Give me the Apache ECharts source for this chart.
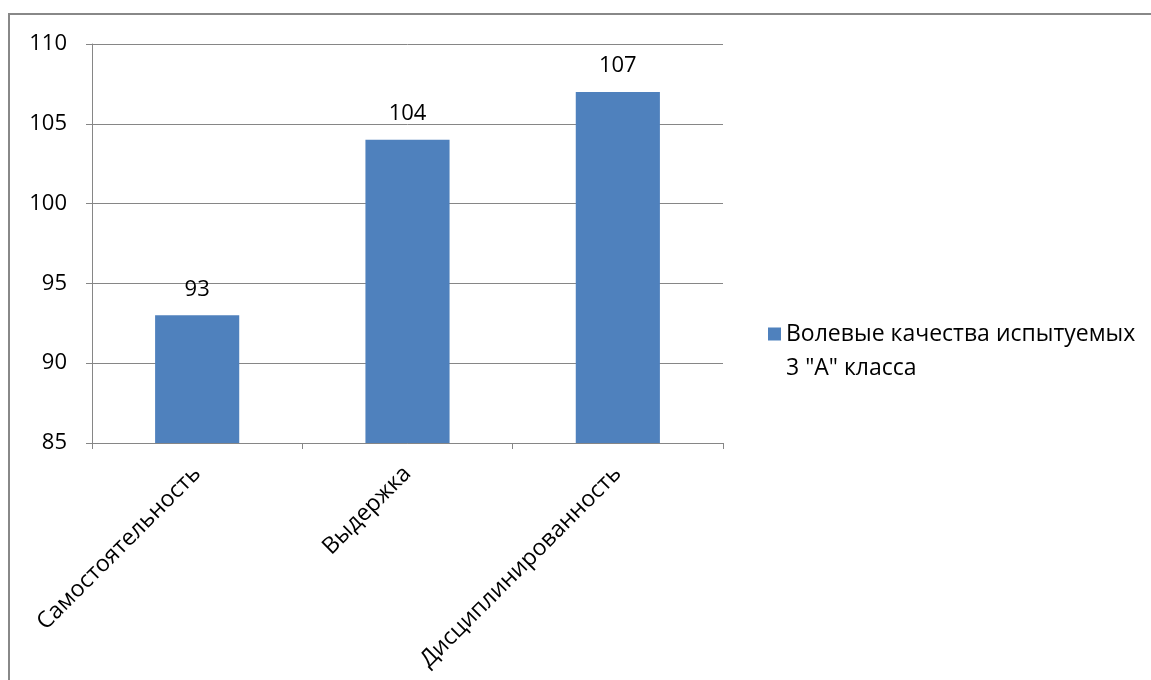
<!DOCTYPE html>
<html><head><meta charset="utf-8">
<script src="https://cdn.jsdelivr.net/npm/echarts@6/dist/echarts.min.js"></script>
<style>html,body{margin:0;padding:0;background:#fff}#c{width:1151px;height:680px}</style>
</head><body><div id="c"></div>
<script>
const categories = ["Самостоятельность", "Выдержка", "Дисциплинированность"];
const values = [93, 104, 107];
const seriesName = 'Волевые качества испытуемых\n3 "А" класса';
const yMin = 85, yMax = 110, yStep = 5;

const chart = echarts.init(document.getElementById('c'));
const font = '"Open Sans", "Noto Sans", sans-serif';
chart.setOption({
  animation: false,
  backgroundColor: '#fff',
  textStyle: { fontFamily: font },
  graphic: [{
    type: 'rect', shape: { x: 9, y: 14, width: 1160, height: 700 },
    style: { fill: 'none', stroke: '#888', lineWidth: 2 }, silent: true
  }],
  grid: { left: 92, top: 44, width: 631, height: 399, containLabel: false },
  legend: {
    left: 768, top: 317, padding: 0, itemWidth: 13, itemHeight: 47, itemGap: 7,
    icon: 'path://M0,0L13,0L13,13L0,13Z M0,47L0.001,47L0,47Z',
    textStyle: { fontSize: 23, color: '#000', fontFamily: font, lineHeight: 34 },
    data: [seriesName]
  },
  xAxis: {
    type: 'category', data: categories,
    axisLine: { lineStyle: { color: '#868686', width: 1 } },
    axisTick: { show: true, length: 6, alignWithLabel: false, lineStyle: { color: '#868686' } },
    axisLabel: { rotate: 45, fontSize: 23, color: '#000', margin: 27, fontFamily: font, interval: 0 }
  },
  yAxis: {
    type: 'value', min: yMin, max: yMax, interval: yStep,
    axisLine: { show: true, lineStyle: { color: '#868686' } },
    axisTick: { show: true, length: 6, lineStyle: { color: '#868686' } },
    splitLine: { lineStyle: { color: '#868686' } },
    axisLabel: { fontSize: 22, color: '#000', margin: 25, fontFamily: font }
  },
  series: [{
    name: seriesName, type: 'bar', data: values, barWidth: '40%',
    itemStyle: { color: '#4F81BD' },
    label: { show: true, position: 'top', fontSize: 22, color: '#000', distance: 15, fontFamily: font }
  }]
});
</script></body></html>
